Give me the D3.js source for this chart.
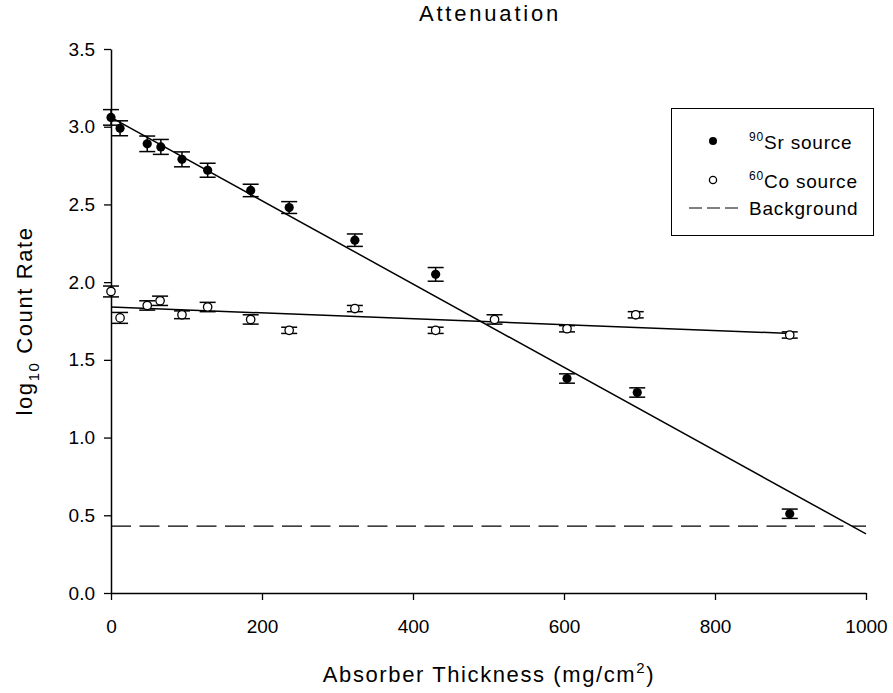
<!DOCTYPE html>
<html><head><meta charset="utf-8">
<script src="https://cdn.jsdelivr.net/npm/d3@7"></script>
<style>body{margin:0;background:#fff}svg{display:block}text{font-family:"Liberation Sans",Arial,sans-serif;fill:#000}</style>
</head><body><svg id="c" width="893" height="693"></svg>
<script>
// Data
const srThickness = [0, 12, 48, 66, 94, 128, 185, 236, 323, 430, 604, 697, 899];
const srLogRate   = [3.06, 2.99, 2.89, 2.87, 2.79, 2.72, 2.59, 2.48, 2.27, 2.05, 1.38, 1.29, 0.51];
const srErr       = [0.05, 0.048, 0.05, 0.048, 0.048, 0.045, 0.04, 0.038, 0.04, 0.044, 0.03, 0.03, 0.03];
const coThickness = [0, 12, 48, 65, 94, 128, 185, 236, 323, 430, 508, 604, 695, 899];
const coLogRate   = [1.94, 1.77, 1.85, 1.88, 1.79, 1.84, 1.76, 1.69, 1.83, 1.69, 1.76, 1.70, 1.79, 1.66];
const coErr       = [0.035, 0.035, 0.03, 0.03, 0.025, 0.03, 0.03, 0.02, 0.02, 0.02, 0.03, 0.02, 0.02, 0.02];
const srFitX = [0, 1000], srFitY = [3.06, 0.38];
const coFitX = [0, 900],  coFitY = [1.84, 1.67];
const backgroundLevel = 0.43;
const xTicks = [0, 200, 400, 600, 800, 1000];
const yTicks = [0, 0.5, 1.0, 1.5, 2.0, 2.5, 3.0, 3.5];

const svg = d3.select("#c");
const x = d3.scaleLinear().domain([0, 1000]).range([111, 866]);
const y = d3.scaleLinear().domain([0, 3.5]).range([593, 49]);

// axes
const xAxis = d3.axisBottom(x).tickValues(xTicks).tickFormat(d3.format("d")).tickSize(7).tickSizeOuter(0);
const gx = svg.append("g").attr("transform","translate(0,593)").call(xAxis);
gx.select(".domain").attr("stroke","#000").attr("stroke-width",1.5);
gx.selectAll(".tick line").attr("stroke","#000").attr("stroke-width",1.3);
gx.selectAll(".tick text").attr("font-size",19).attr("y",40).attr("dy",0).attr("font-family","Liberation Sans, Arial, sans-serif");

const yAxis = d3.axisLeft(y).tickValues(yTicks).tickFormat(d3.format(".1f")).tickSize(7).tickSizeOuter(0);
const gy = svg.append("g").attr("transform","translate(111,0)").call(yAxis);
gy.select(".domain").attr("stroke","#000").attr("stroke-width",1.5);
gy.selectAll(".tick line").attr("stroke","#000").attr("stroke-width",1.3);
gy.selectAll(".tick text").attr("font-size",19).attr("x",-16).attr("font-family","Liberation Sans, Arial, sans-serif");

// title & labels
svg.append("text").attr("x",490).attr("y",21).attr("text-anchor","middle").attr("font-size",22).attr("letter-spacing",2.8).text("Attenuation");
const xl = svg.append("text").attr("x",489).attr("y",682).attr("text-anchor","middle").attr("font-size",22).attr("letter-spacing",1.6);
xl.append("tspan").text("Absorber Thickness (mg/cm");
xl.append("tspan").attr("font-size",15).attr("dy",-9).text("2");
xl.append("tspan").attr("dy",9).text(")");
const yl = svg.append("text").attr("transform","translate(32,321) rotate(-90)").attr("text-anchor","middle").attr("font-size",22).attr("letter-spacing",1.6);
yl.append("tspan").text("log");
yl.append("tspan").attr("font-size",15).attr("dy",7).text("10");
yl.append("tspan").attr("dy",-7).text(" Count Rate");

// background dashed
svg.append("line").attr("x1",x(0)).attr("x2",x(1000)).attr("y1",y(backgroundLevel)).attr("y2",y(backgroundLevel))
  .attr("stroke","#000").attr("stroke-width",1.3).attr("stroke-dasharray","20,8.5");

// fit lines
const line = d3.line().x(d=>x(d[0])).y(d=>y(d[1]));
svg.append("path").attr("d",line(d3.zip(srFitX,srFitY))).attr("stroke","#000").attr("stroke-width",1.5).attr("fill","none");
svg.append("path").attr("d",line(d3.zip(coFitX,coFitY))).attr("stroke","#000").attr("stroke-width",1.5).attr("fill","none");

function errorBars(xs, ys, es){
  const g = svg.append("g").attr("stroke","#000").attr("stroke-width",1.5);
  xs.forEach((xv,i)=>{
    const cx = x(xv), t = y(ys[i]+es[i]), b = y(ys[i]-es[i]);
    g.append("line").attr("x1",cx).attr("x2",cx).attr("y1",t).attr("y2",b);
    g.append("line").attr("x1",cx-8).attr("x2",cx+8).attr("y1",t).attr("y2",t);
    g.append("line").attr("x1",cx-8).attr("x2",cx+8).attr("y1",b).attr("y2",b);
  });
}
errorBars(srThickness, srLogRate, srErr);
errorBars(coThickness, coLogRate, coErr);

svg.append("g").selectAll("circle").data(d3.zip(srThickness, srLogRate)).join("circle")
  .attr("cx",d=>x(d[0])).attr("cy",d=>y(d[1])).attr("r",4.6).attr("fill","#000");
svg.append("g").selectAll("circle").data(d3.zip(coThickness, coLogRate)).join("circle")
  .attr("cx",d=>x(d[0])).attr("cy",d=>y(d[1])).attr("r",4.2).attr("fill","#fff").attr("stroke","#000").attr("stroke-width",1.3);

// legend
const lg = svg.append("g");
lg.append("rect").attr("x",671.5).attr("y",108.5).attr("width",202).attr("height",127).attr("fill","#fff").attr("stroke","#000").attr("stroke-width",1);
lg.append("circle").attr("cx",713).attr("cy",141).attr("r",4).attr("fill","#000");
lg.append("circle").attr("cx",713).attr("cy",180).attr("r",3.6).attr("fill","#fff").attr("stroke","#000").attr("stroke-width",1.3);
lg.append("line").attr("x1",689).attr("x2",739).attr("y1",208).attr("y2",208).attr("stroke","#000").attr("stroke-width",1).attr("stroke-dasharray","13,5");
const t1 = lg.append("text").attr("x",749).attr("y",149).attr("font-size",19).attr("letter-spacing",0.8);
t1.append("tspan").attr("font-size",12).attr("dy",-8).text("90");
t1.append("tspan").attr("dy",8).text("Sr source");
const t2 = lg.append("text").attr("x",749).attr("y",188).attr("font-size",19).attr("letter-spacing",0.8);
t2.append("tspan").attr("font-size",12).attr("dy",-8).text("60");
t2.append("tspan").attr("dy",8).text("Co source");
lg.append("text").attr("x",749).attr("y",215).attr("font-size",19).attr("letter-spacing",0.8).text("Background");
</script></body></html>
